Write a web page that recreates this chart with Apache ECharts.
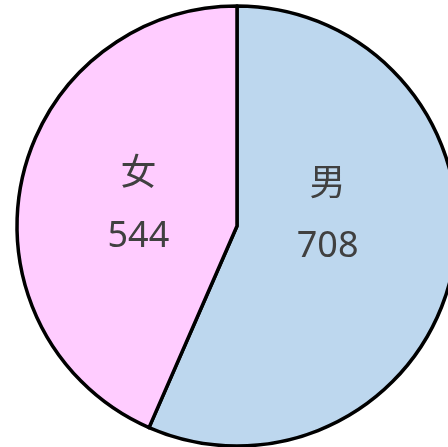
<!DOCTYPE html>
<html>
<head>
<meta charset="utf-8">
<script src="https://cdn.jsdelivr.net/npm/echarts@6/dist/echarts.min.js"></script>
<style>html,body{margin:0;padding:0;background:#fff;}#c{width:448px;height:447px;}</style>
</head>
<body>
<div id="c"></div>
<script>
const categories = ['男', '女'];
const values = [708, 544];
const colors = ['#BDD7EE', '#FFCCFF'];
const labelShift = [[-20, -33], [12, 3]];

const chart = echarts.init(document.getElementById('c'), null, {renderer: 'canvas'});
chart.setOption({
  animation: false,
  backgroundColor: '#ffffff',
  series: [{
    type: 'pie',
    center: [237, 226],
    radius: 220,
    startAngle: 90,
    clockwise: true,
    avoidLabelOverlap: false,
    itemStyle: { borderColor: '#000000', borderWidth: 3.5 },
    label: {
      show: true,
      position: 'inside',
      formatter: '{b}\n{c}',
      color: '#404040',
      fontSize: 36,
      lineHeight: 62,
      fontFamily: '"Noto Sans", "Noto Sans CJK SC", sans-serif'
    },
    labelLine: { show: false },
    emphasis: { disabled: true },
    labelLayout: function (p) {
      return { dx: labelShift[p.dataIndex][0], dy: labelShift[p.dataIndex][1] };
    },
    data: categories.map((n, i) => ({ name: n, value: values[i], itemStyle: { color: colors[i] } }))
  }]
});
</script>
</body>
</html>
